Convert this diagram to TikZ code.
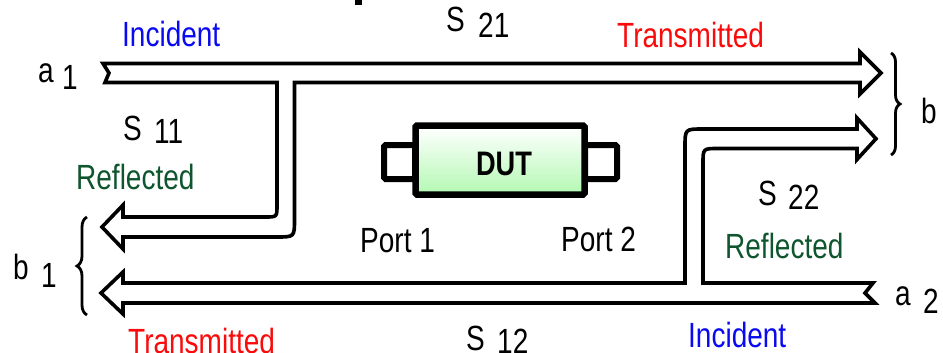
\documentclass[tikz,border=0pt]{standalone}
\usepackage{fontspec}
\setmainfont{Liberation Sans}[FakeStretch=0.8]
\usetikzlibrary{decorations.pathreplacing}

\definecolor{incblue}{RGB}{10,10,240}
\definecolor{transred}{RGB}{250,10,10}
\definecolor{reflgreen}{RGB}{15,85,45}
\definecolor{dutgreen}{RGB}{140,245,140}
\pgfdeclareverticalshading{dutshade}{100bp}{color(0bp)=(dutgreen); color(30bp)=(dutgreen!60!white); color(74bp)=(white); color(100bp)=(dutgreen)}

\begin{document}
\begin{tikzpicture}[x=1pt,y=-1pt,
  band/.style={draw=black,line width=3.6pt,fill=white,line join=miter},
  bracket/.style={draw=black,line width=2.8pt,decorate,decoration={brace,amplitude=#1}},
  lbl/.style={inner sep=0pt,anchor=base west,font=\fontsize{35}{40}\selectfont},
  inc/.style={lbl,text=incblue},
  trans/.style={lbl,text=transred},
  refl/.style={lbl,text=reflgreen},
  tab/.style={draw=black,line width=6pt,fill=white,rounded corners=1.5pt},
  body/.style={draw=black,line width=6.5pt,shading=dutshade,rounded corners=1.5pt}]
\useasboundingbox (0,0) rectangle (943,353);

% clipped stroke of a heading above the figure
\fill (355,0) rectangle (362,5);

% port 1 -> port 2 band with the S11 reflection branch
\draw[band] (103,63.5) -- (860,63.5) -- (860,52) -- (881,73) -- (860,94) -- (860,82.5)
  -- (294.5,82.5) -- (294.5,219) .. controls (294.5,237) .. (276.5,237)
  -- (123,237) -- (123,249) -- (102,227) -- (123,205) -- (123,217)
  -- (265,217) .. controls (277,217) .. (277,205) -- (277,82.5)
  -- (105,82.5) -- (109,73) -- cycle;

% port 2 -> port 1 band with the S22 reflection branch
\draw[band] (685,283) -- (685,147) .. controls (685,129) .. (703,129)
  -- (857,129) -- (857,118) -- (876,138.75) -- (857,159.5) -- (857,148.5)
  -- (718,148.5) .. controls (703,148.5) .. (703,163.5) -- (703,283)
  -- (873,283) -- (865,293) -- (875,303) -- (123,303) -- (123,314)
  -- (101,293) -- (123,272) -- (123,283) -- cycle;

% outgoing waves grouped by braces
\draw[bracket=9pt] (891,53) -- (891,155);
\draw[bracket=10pt] (87,315) -- (87,217);

% device under test
\draw[tab] (384,145) rectangle (415,179);
\draw[tab] (585,145) rectangle (617,179);
\draw[body] (415.5,125.5) rectangle (584.5,194.5);
\node[inner sep=0pt,font=\fontsize{34}{38}\selectfont\bfseries] (dut) at (504,164) {DUT};

% wave names
\node[lbl] (a1) at (38,83) {a};
\node[lbl] (a1i) at (62,90) {1};
\node[lbl] (b1) at (13,279) {b};
\node[lbl] (b1i) at (41,287) {1};
\node[lbl] (a2) at (895,305) {a};
\node[lbl] (a2i) at (923,313) {2};
\node[lbl] (b2) at (921,123) {b};

% scattering parameters
\node[lbl] (s21) at (446,32) {S};
\node[lbl] (s21i) at (478,38) {21};
\node[lbl] (s11) at (123,140) {S};
\node[lbl] (s11i) at (154,143) {11};
\node[lbl] (s22) at (758,205) {S};
\node[lbl] (s22i) at (788,209) {22};
\node[lbl] (s12) at (466,350) {S};
\node[lbl] (s12i) at (497,353) {12};

% port names
\node[lbl] (p1) at (360,252) {Port 1};
\node[lbl] (p2) at (561,251) {Port 2};

% wave roles
\node[inc] (inc1) at (122,47) {Incident};
\node[trans] (tr1) at (617,48) {Transmitted};
\node[refl] (rf1) at (76,189) {Reflected};
\node[refl] (rf2) at (725,258) {Reflected};
\node[inc] (inc2) at (688,347) {Incident};
\node[trans] (tr2) at (128,353) {Transmitted};
\end{tikzpicture}
\end{document}
